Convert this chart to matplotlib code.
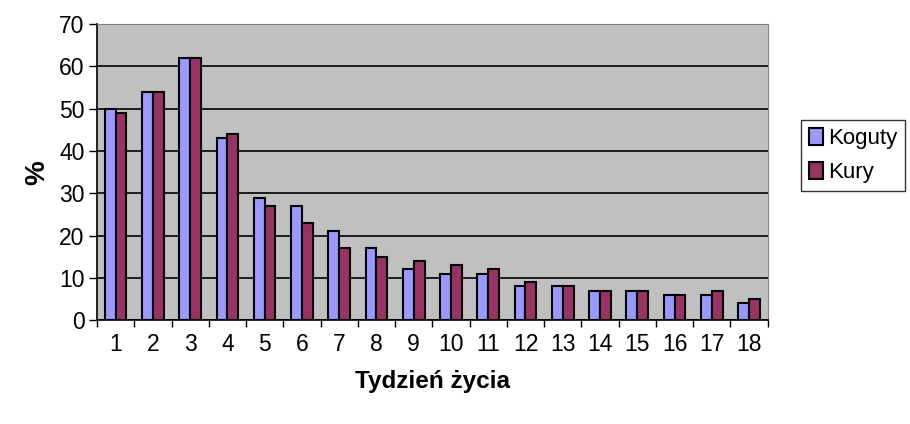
import matplotlib.pyplot as plt
import numpy as np

plt.rcParams['font.family'] = ['Liberation Sans', 'DejaVu Sans']

weeks = [str(i) for i in range(1, 19)]
koguty = [50, 54, 62, 43, 29, 27, 21, 17, 12, 11, 11, 8, 8, 7, 7, 6, 6, 4]
kury = [49, 54, 62, 44, 27, 23, 17, 15, 14, 13, 12, 9, 8, 7, 7, 6, 7, 5]

fig = plt.figure(figsize=(9.1, 4.24), dpi=100)
ax = fig.add_axes([0.1066, 0.245, 0.737, 0.698])
ax.set_facecolor('#c0c0c0')

x = np.arange(len(weeks))
w = 0.29
ax.bar(x - w / 2, koguty, w, color='#9999ff', edgecolor='black', lw=1.5, label='Koguty', zorder=3)
ax.bar(x + w / 2, kury, w, color='#993366', edgecolor='black', lw=1.5, label='Kury', zorder=3)

ax.set_xlim(-0.5, len(weeks) - 0.5)
ax.set_ylim(0, 70)
ax.set_yticks(range(0, 71, 10))
ax.yaxis.grid(True, color='black', lw=1.2, zorder=1)
ax.set_xticks(x)
ax.set_xticklabels(weeks)
ax.set_xticks(np.arange(-0.5, len(weeks)), minor=True)
ax.tick_params(axis='x', which='major', length=0, labelsize=16.5, pad=9)
ax.tick_params(axis='x', which='minor', length=5, width=1, direction='out')
ax.tick_params(axis='y', length=6, width=1, labelsize=16.5, pad=3)
for s in ['top', 'right']:
    ax.spines[s].set_color('#808080')
ax.spines['left'].set_lw(1.2)
ax.spines['bottom'].set_lw(1.2)

ax.set_xlabel('Tydzień życia', fontsize=17.5, fontweight='bold', labelpad=10)
ax.set_ylabel('%', fontsize=20, fontweight='bold', labelpad=6)

leg = ax.legend(loc='upper left', bbox_to_anchor=(1.05, 0.675), fontsize=16,
                frameon=True, fancybox=False, edgecolor='black', handlelength=0.65,
                handleheight=0.8, handletextpad=0.2, borderpad=0.35, labelspacing=0.55,
                borderaxespad=0)

fig.savefig('out.png')
